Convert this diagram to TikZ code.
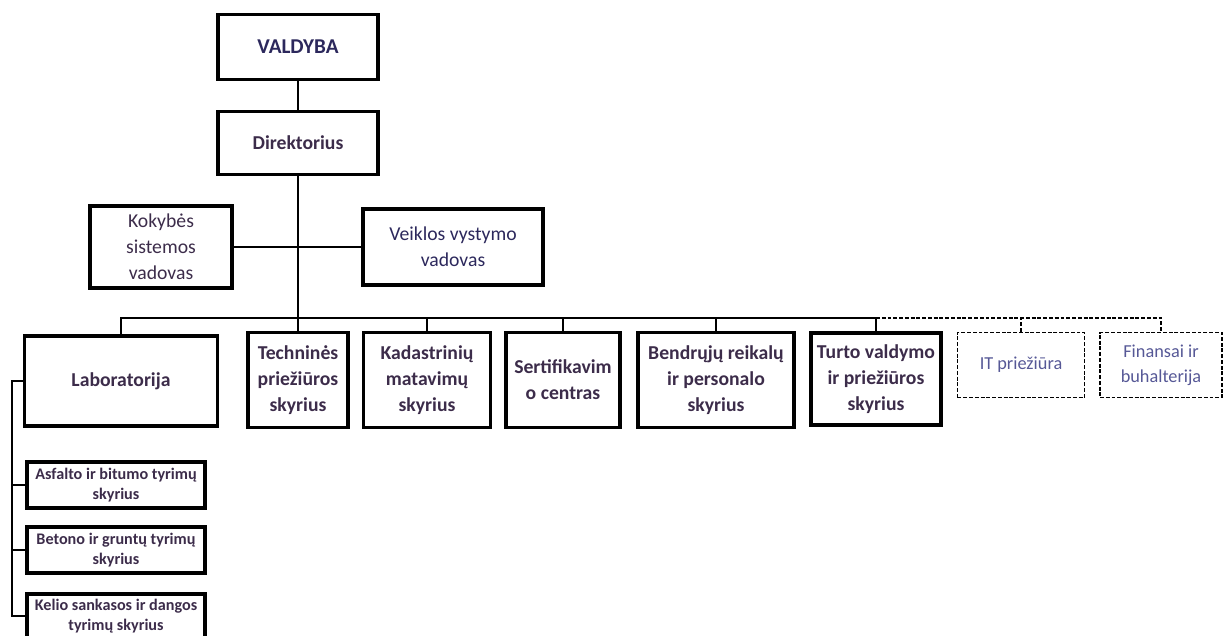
\documentclass[tikz,border=0pt]{standalone}
\usepackage{fontspec}
\setmainfont{Carlito}
\usetikzlibrary{positioning,calc}

\definecolor{txtdark}{RGB}{60,44,74}
\definecolor{txtnavy}{RGB}{44,40,92}
\definecolor{txtblue}{RGB}{86,88,150}

\begin{document}
\begin{tikzpicture}[
  x=0.025cm, y=-0.025cm,
  every node/.style={align=center, text=txtdark},
  unit/.style={draw, line width=2.6pt, inner sep=2pt,
    font=\bfseries\fontsize{14}{18.5}\selectfont},
  staff/.style={unit, font=\fontsize{14}{18.5}\selectfont},
  subunit/.style={unit, line width=2.2pt, minimum width=178*0.025cm, minimum height=46*0.025cm,
    font=\bfseries\fontsize{11.5}{14.5}\selectfont},
  extunit/.style={draw, line width=1.4pt, dash pattern=on 2.8pt off 1.3pt,
    text=txtblue, font=\fontsize{13}{18}\selectfont,
    minimum height=65*0.025cm},
  link/.style={line width=2pt},
  extlink/.style={line width=1.4pt, dash pattern=on 2.8pt off 1.3pt}
]
\useasboundingbox (0,0) rectangle (1223,636);

% --- Layout
\node[unit, minimum width=160*0.025cm, minimum height=65*0.025cm,
  text=txtnavy, font=\bfseries\fontsize{15}{18}\selectfont] (valdyba) at (298,47) {VALDYBA};
\node[unit, minimum width=160*0.025cm, minimum height=63*0.025cm] (direktorius) at (298,143) {Direktorius};

\node[staff, minimum width=142*0.025cm, minimum height=82*0.025cm] (kokybe) at (161,247) {Kokybės\\sistemos\\vadovas};
\node[staff, minimum width=180*0.025cm, minimum height=76*0.025cm, text=txtnavy] (veikla) at (453,247) {Veiklos vystymo\\vadovas};

\node[unit, minimum width=193*0.025cm, minimum height=90*0.025cm] (lab) at (121,381) {Laboratorija};
\node[unit, minimum width=100*0.025cm, minimum height=95*0.025cm] (techn) at (298,380) {Techninės\\priežiūros\\skyrius};
\node[unit, minimum width=127*0.025cm, minimum height=95*0.025cm] (kadastr) at (427,380) {Kadastrinių\\matavimų\\skyrius};
\node[unit, minimum width=114*0.025cm, minimum height=95*0.025cm] (sertif) at (563,380) {Sertifikavim\\o centras};
\node[unit, minimum width=156*0.025cm, minimum height=95*0.025cm] (bendr) at (716,380) {Bendrųjų reikalų\\ir personalo\\skyrius};
\node[unit, minimum width=130*0.025cm, minimum height=92*0.025cm] (turto) at (876,379) {Turto valdymo\\ir priežiūros\\skyrius};

\node[extunit, minimum width=127*0.025cm] (it) at (1021,365) {IT priežiūra};
\node[extunit, minimum width=122*0.025cm] (fin) at (1161,365) {Finansai ir\\buhalterija};

\node[subunit] (asfalto) at (116,485) {Asfalto ir bitumo tyrimų\\skyrius};
\node[subunit] (betono) at (116,550) {Betono ir gruntų tyrimų\\skyrius};
\node[subunit, minimum height=44*0.025cm] (kelio) at (116,616) {Kelio sankasos ir dangos\\tyrimų skyrius};

% --- Management line
\coordinate (bus) at (298,318);
\draw[link] (valdyba) -- (direktorius);
\draw[link] (direktorius) -- (bus);
\draw[link] (kokybe) -- (veikla);

% --- Departments
\draw[link] (lab.north) |- (bus) -| (turto.north);
\foreach \d in {techn,kadastr,sertif,bendr}
  \draw[link] (\d.north) -- (\d.north |- bus);

% --- Outsourced (dashed)
\draw[extlink] (turto.north |- bus) -| (fin.north);
\draw[extlink] (it.north) -- (it.north |- bus);

% --- Laboratory divisions
\coordinate (spine) at (12,381);
\draw[link] (lab.west) -- (spine) |- (kelio.west);
\draw[link] (spine |- asfalto.west) -- (asfalto.west);
\draw[link] (spine |- betono.west) -- (betono.west);

\end{tikzpicture}
\end{document}
